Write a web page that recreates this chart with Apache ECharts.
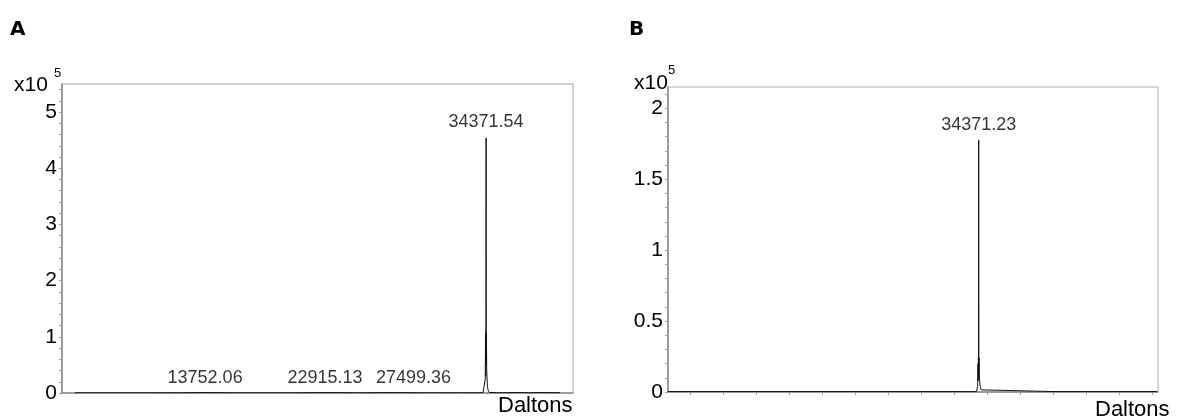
<!DOCTYPE html>
<html><head><meta charset="utf-8">
<script src="https://cdn.jsdelivr.net/npm/echarts@6/dist/echarts.min.js"></script>
<style>html,body{margin:0;padding:0;background:#fff}#c{width:1179px;height:418px}</style>
</head><body><div id="c"></div>
<script>
// Panel A spectrum: [mass (Da), intensity (x10^5)]
const spectrumA = [
  [4200, 0.004], [8000, 0.004], [12000, 0.005], [13752, 0.008], [16000, 0.004],
  [20000, 0.004], [22915, 0.007], [25000, 0.004], [27499, 0.007], [30000, 0.004],
  [32500, 0.005], [33200, 0.005], [33330, 0.03], [33430, 0.005], [34150, 0.005],
  [34250, 0.03], [34310, 0.25], [34330, 0.9], [34340, 0.3], [34350, 1.05],
  [34358, 0.5], [34364, 1.1], [34371.54, 4.54], [34376, 0.9], [34382, 1.1],
  [34390, 0.6], [34400, 0.95], [34415, 0.45], [34440, 0.25], [34470, 0.12],
  [34520, 0.05], [34600, 0.01], [35200, 0.005],
  [36500, 0.008], [37500, 0.006], [38500, 0.008], [39800, 0.005]
];
const peaksA = [[13752.06, 0], [22915.13, 0], [27499.36, 0], [34371.54, 4.54]];
const peakLabelsA = ['13752.06', '22915.13', '27499.36', '34371.54'];

// Panel B spectrum
const spectrumB = [
  [10833, 0.003], [15000, 0.003], [20000, 0.003], [25000, 0.003], [30000, 0.003],
  [33350, 0.003], [33480, 0.012], [33600, 0.003], [34200, 0.003], [34290, 0.04],
  [34320, 0.2], [34335, 0.08], [34350, 0.25], [34360, 0.12], [34371.23, 1.775],
  [34380, 0.2], [34388, 0.1], [34395, 0.24], [34410, 0.12], [34430, 0.09],
  [34480, 0.04], [34560, 0.015], [34650, 0.003], [40000, 0.003], [47900, 0.003]
];
const peaksB = [[34371.23, 1.775]];
const peakLabelsB = ['34371.23'];

const yLabelsA = [0, 1, 2, 3, 4, 5];
const yTicksA = [0, 0.2, 0.4, 0.6, 0.8, 1, 1.2, 1.4, 1.6, 1.8, 2, 2.2, 2.4, 2.6, 2.8, 3, 3.2, 3.4, 3.6, 3.8, 4, 4.2, 4.4, 4.6, 4.8, 5, 5.2, 5.4];
const yLabelsB = [0, 0.5, 1, 1.5, 2];
const yTicksB = [0, 0.1, 0.2, 0.3, 0.4, 0.5, 0.6, 0.7, 0.8, 0.9, 1, 1.1, 1.2, 1.3, 1.4, 1.5, 1.6, 1.7, 1.8, 1.9, 2, 2.1];
const xTicksB = [12500, 15000, 17500, 20000, 22500, 25000, 27500, 30000, 32500, 35000, 37500, 40000, 42500, 45000, 47500];

const FONT = 'Liberation Sans, Arial, sans-serif';
const labelOffsetsA = [[0, 0], [-5, 0], [21, 0], [0, 0]];

const chart = echarts.init(document.getElementById('c'), null, {renderer: 'canvas'});
const axisGray = '#8a8a8a';

function yAxis(grid, max, labels, ticks) {
  return {
    type: 'value', gridIndex: grid, min: 0, max: max,
    axisLine: {show: true, lineStyle: {color: axisGray, width: 1.5}},
    axisTick: {show: true, customValues: ticks, length: 3, lineStyle: {color: '#999'}},
    axisLabel: {customValues: labels, fontSize: 21, color: '#000', fontFamily: FONT, margin: 5},
    splitLine: {show: false}
  };
}

chart.setOption({
  animation: false,
  grid: [
    {left: 62, top: 84, width: 511, height: 309, show: true, borderColor: '#a0a0a0', borderWidth: 1},
    {left: 668, top: 87, width: 490, height: 305, show: true, borderColor: '#b0b0b0', borderWidth: 1}
  ],
  xAxis: [
    {type: 'value', gridIndex: 0, min: 3250, max: 40750,
      axisLine: {show: true, lineStyle: {color: axisGray, width: 1.5}},
      axisTick: {show: false}, axisLabel: {show: false}, splitLine: {show: false}},
    {type: 'value', gridIndex: 1, min: 10833, max: 47954,
      axisLine: {show: true, lineStyle: {color: axisGray, width: 1.5}},
      axisTick: {show: true, customValues: xTicksB, length: 3, lineStyle: {color: '#999'}},
      axisLabel: {show: false}, splitLine: {show: false}}
  ],
  yAxis: [
    yAxis(0, 5.5, yLabelsA, yTicksA),
    yAxis(1, 2.15, yLabelsB, yTicksB)
  ],
  series: [
    {type: 'line', xAxisIndex: 0, yAxisIndex: 0, data: spectrumA, symbol: 'none',
      lineStyle: {color: '#111', width: 1}},
    {type: 'line', xAxisIndex: 1, yAxisIndex: 1, data: spectrumB, symbol: 'none',
      lineStyle: {color: '#111', width: 1}},
    {type: 'scatter', xAxisIndex: 0, yAxisIndex: 0, symbolSize: 0, silent: true,
      data: peaksA.map((p, i) => ({value: p, name: peakLabelsA[i],
        label: {offset: labelOffsetsA[i], distance: i === 3 ? 7 : 6}})),
      label: {show: true, position: 'top', formatter: '{b}', fontSize: 18, color: '#000', fontFamily: FONT}},
    {type: 'scatter', xAxisIndex: 1, yAxisIndex: 1, symbolSize: 0, silent: true,
      data: peaksB.map((p, i) => ({value: p, name: peakLabelsB[i]})),
      label: {show: true, position: 'top', formatter: '{b}', distance: 6, fontSize: 18, color: '#000', fontFamily: FONT}}
  ],
  graphic: [
    {type: 'text', left: 10, top: 20, style: {text: 'A', font: 'bold 20px "DejaVu Sans", Verdana, sans-serif', fill: '#000'}},
    {type: 'text', left: 629, top: 20, style: {text: 'B', font: 'bold 20px "DejaVu Sans", Verdana, sans-serif', fill: '#000'}},
    {type: 'text', left: 14, top: 75, style: {text: 'x10', font: '21px ' + FONT, fill: '#000'}},
    {type: 'text', left: 54, top: 67, style: {text: '5', font: '13px ' + FONT, fill: '#000'}},
    {type: 'text', left: 634, top: 73, style: {text: 'x10', font: '21px ' + FONT, fill: '#000'}},
    {type: 'text', left: 668, top: 64, style: {text: '5', font: '13px ' + FONT, fill: '#000'}},
    {type: 'text', left: 498, top: 395, style: {text: 'Daltons', font: '22px ' + FONT, fill: '#000'}},
    {type: 'text', left: 1095, top: 399, style: {text: 'Daltons', font: '22px ' + FONT, fill: '#000'}}
  ]
});
</script>
</body></html>
